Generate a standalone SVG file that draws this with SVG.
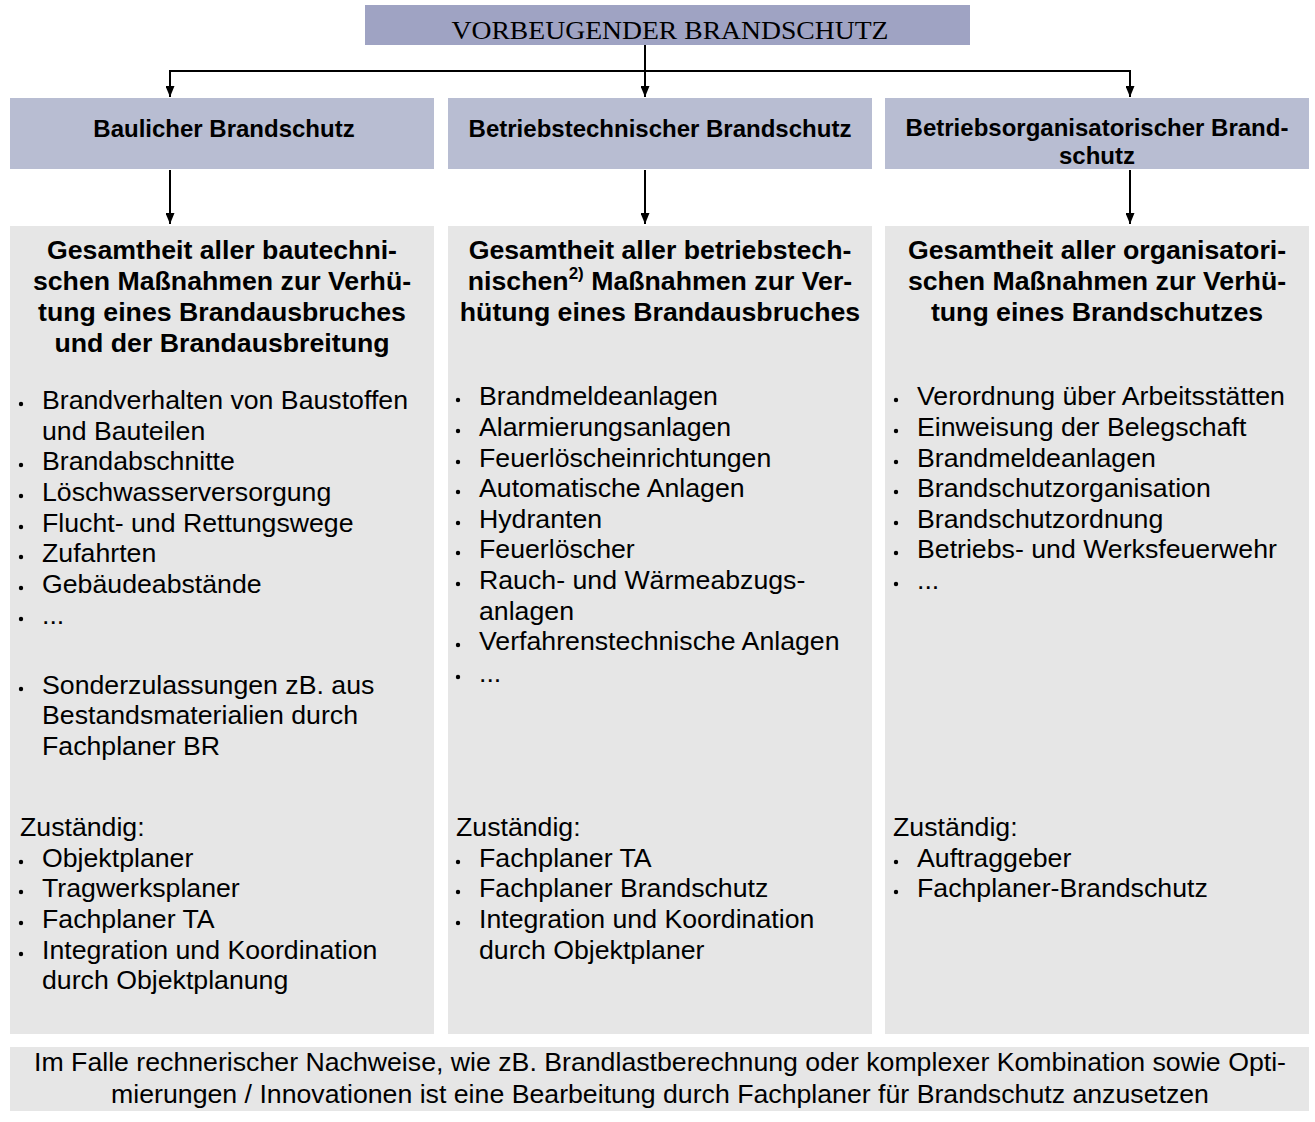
<svg xmlns="http://www.w3.org/2000/svg" width="1315" height="1122" viewBox="0 0 1315 1122">
<style>
.hdr{fill:#b8bdd2}
.box{fill:#e6e6e6}
.h{font-family:"Liberation Sans",Arial,sans-serif;font-weight:bold;font-size:24px;fill:#000;text-anchor:middle}
.t{font-family:"Liberation Sans",Arial,sans-serif;font-weight:bold;font-size:26.7px;fill:#000;text-anchor:middle}
.b{font-family:"Liberation Sans",Arial,sans-serif;font-size:26.7px;fill:#000}
.dot{fill:#000}
.ln{stroke:#000;stroke-width:2;fill:none}
</style>
<defs>
<marker id="ah" viewBox="0 0 10 10" refX="10" refY="5" markerWidth="11" markerHeight="9" markerUnits="userSpaceOnUse" orient="auto" preserveAspectRatio="none"><path d="M0,0 L10,5 L0,10 z" fill="#000"/></marker>
</defs>
<g id="root">
<rect x="365" y="5" width="605" height="40" fill="#9fa3c3"/>
<text x="670" y="39" font-family="'Liberation Serif','Times New Roman',serif" font-size="25" text-anchor="middle" textLength="437" lengthAdjust="spacingAndGlyphs">VORBEUGENDER BRANDSCHUTZ</text>
</g>
<g id="connectors">
<line class="ln" x1="645" y1="45" x2="645" y2="97" marker-end="url(#ah)"/>
<line class="ln" x1="169" y1="71" x2="1131" y2="71"/>
<line class="ln" x1="170" y1="71" x2="170" y2="97" marker-end="url(#ah)"/>
<line class="ln" x1="1130" y1="71" x2="1130" y2="97" marker-end="url(#ah)"/>
<line class="ln" x1="170" y1="170" x2="170" y2="224" marker-end="url(#ah)"/>
<line class="ln" x1="645" y1="170" x2="645" y2="224" marker-end="url(#ah)"/>
<line class="ln" x1="1130" y1="170" x2="1130" y2="224" marker-end="url(#ah)"/>
</g>
<g id="h1"><rect class="hdr" x="10" y="98" width="424" height="71"/><text class="h" x="224" y="137">Baulicher Brandschutz</text></g>
<g id="h2"><rect class="hdr" x="448" y="98" width="424" height="71"/><text class="h" x="660" y="137">Betriebstechnischer Brandschutz</text></g>
<g id="h3"><rect class="hdr" x="885" y="98" width="424" height="71"/><text class="h" x="1097" y="136">Betriebsorganisatorischer Brand-</text><text class="h" x="1097" y="164">schutz</text></g>
<g id="c1">
<rect class="box" x="10" y="226" width="424" height="808"/>
<text class="t" x="222" y="259">Gesamtheit aller bautechni-</text>
<text class="t" x="222" y="290">schen Maßnahmen zur Verhü-</text>
<text class="t" x="222" y="321">tung eines Brandausbruches</text>
<text class="t" x="222" y="352">und der Brandausbreitung</text>
<g class="b">
<text x="42" y="409">Brandverhalten von Baustoffen</text>
<text x="42" y="440">und Bauteilen</text>
<text x="42" y="470">Brandabschnitte</text>
<text x="42" y="501">Löschwasserversorgung</text>
<text x="42" y="532">Flucht- und Rettungswege</text>
<text x="42" y="562">Zufahrten</text>
<text x="42" y="593">Gebäudeabstände</text>
<text x="42" y="624">...</text>
<text x="42" y="694">Sonderzulassungen zB. aus</text>
<text x="42" y="724">Bestandsmaterialien durch</text>
<text x="42" y="755">Fachplaner BR</text>
<text x="20" y="836">Zuständig:</text>
<text x="42" y="867">Objektplaner</text>
<text x="42" y="897">Tragwerksplaner</text>
<text x="42" y="928">Fachplaner TA</text>
<text x="42" y="959">Integration und Koordination</text>
<text x="42" y="989">durch Objektplanung</text>
</g>
<g class="dot">
<circle cx="21" cy="404" r="2.2"/><circle cx="21" cy="465" r="2.2"/><circle cx="21" cy="496" r="2.2"/><circle cx="21" cy="527" r="2.2"/><circle cx="21" cy="557" r="2.2"/><circle cx="21" cy="588" r="2.2"/><circle cx="21" cy="619" r="2.2"/><circle cx="21" cy="689" r="2.2"/>
<circle cx="21" cy="862" r="2.2"/><circle cx="21" cy="892" r="2.2"/><circle cx="21" cy="923" r="2.2"/><circle cx="21" cy="954" r="2.2"/>
</g>
</g>
<g id="c2">
<rect class="box" x="448" y="226" width="424" height="808"/>
<text class="t" x="660" y="259">Gesamtheit aller betriebstech-</text>
<text class="t" x="660" y="290">nischen<tspan font-size="17" dy="-11">2)</tspan><tspan dy="11"> Maßnahmen zur Ver-</tspan></text>
<text class="t" x="660" y="321">hütung eines Brandausbruches</text>
<g class="b">
<text x="479" y="405">Brandmeldeanlagen</text>
<text x="479" y="436">Alarmierungsanlagen</text>
<text x="479" y="467">Feuerlöscheinrichtungen</text>
<text x="479" y="497">Automatische Anlagen</text>
<text x="479" y="528">Hydranten</text>
<text x="479" y="558">Feuerlöscher</text>
<text x="479" y="589">Rauch- und Wärmeabzugs-</text>
<text x="479" y="620">anlagen</text>
<text x="479" y="650">Verfahrenstechnische Anlagen</text>
<text x="479" y="682">...</text>
<text x="456" y="836">Zuständig:</text>
<text x="479" y="867">Fachplaner TA</text>
<text x="479" y="897">Fachplaner Brandschutz</text>
<text x="479" y="928">Integration und Koordination</text>
<text x="479" y="959">durch Objektplaner</text>
</g>
<g class="dot">
<circle cx="458" cy="400" r="2.2"/><circle cx="458" cy="431" r="2.2"/><circle cx="458" cy="462" r="2.2"/><circle cx="458" cy="492" r="2.2"/><circle cx="458" cy="523" r="2.2"/><circle cx="458" cy="553" r="2.2"/><circle cx="458" cy="584" r="2.2"/><circle cx="458" cy="645" r="2.2"/><circle cx="458" cy="677" r="2.2"/>
<circle cx="458" cy="862" r="2.2"/><circle cx="458" cy="892" r="2.2"/><circle cx="458" cy="923" r="2.2"/>
</g>
</g>
<g id="c3">
<rect class="box" x="885" y="226" width="424" height="808"/>
<text class="t" x="1097" y="259">Gesamtheit aller organisatori-</text>
<text class="t" x="1097" y="290">schen Maßnahmen zur Verhü-</text>
<text class="t" x="1097" y="321">tung eines Brandschutzes</text>
<g class="b">
<text x="917" y="405">Verordnung über Arbeitsstätten</text>
<text x="917" y="436">Einweisung der Belegschaft</text>
<text x="917" y="467">Brandmeldeanlagen</text>
<text x="917" y="497">Brandschutzorganisation</text>
<text x="917" y="528">Brandschutzordnung</text>
<text x="917" y="558">Betriebs- und Werksfeuerwehr</text>
<text x="917" y="589">...</text>
<text x="893" y="836">Zuständig:</text>
<text x="917" y="867">Auftraggeber</text>
<text x="917" y="897">Fachplaner-Brandschutz</text>
</g>
<g class="dot">
<circle cx="896" cy="400" r="2.2"/><circle cx="896" cy="431" r="2.2"/><circle cx="896" cy="462" r="2.2"/><circle cx="896" cy="492" r="2.2"/><circle cx="896" cy="523" r="2.2"/><circle cx="896" cy="553" r="2.2"/><circle cx="896" cy="584" r="2.2"/>
<circle cx="896" cy="862" r="2.2"/><circle cx="896" cy="892" r="2.2"/>
</g>
</g>
<g id="note">
<rect class="box" x="10" y="1047" width="1299" height="64"/>
<text class="b" x="660" y="1071" text-anchor="middle">Im Falle rechnerischer Nachweise, wie zB. Brandlastberechnung oder komplexer Kombination sowie Opti-</text>
<text class="b" x="660" y="1103" text-anchor="middle">mierungen / Innovationen ist eine Bearbeitung durch Fachplaner für Brandschutz anzusetzen</text>
</g>
</svg>
